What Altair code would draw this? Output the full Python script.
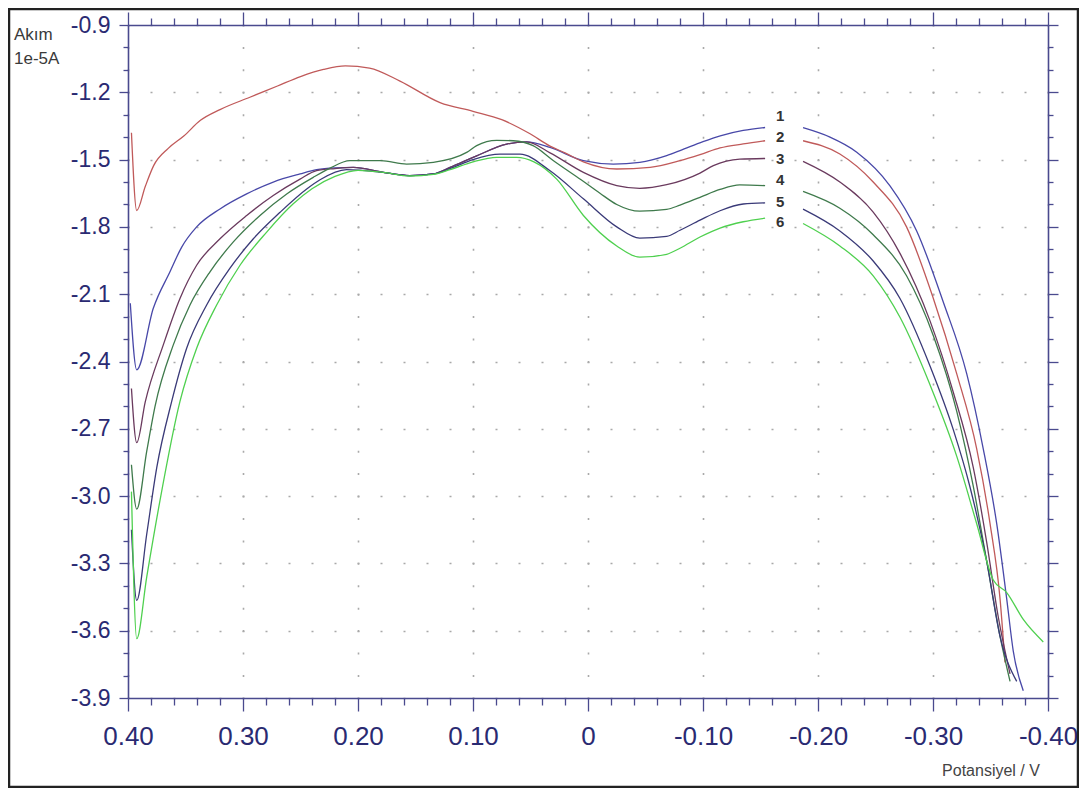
import altair as alt
import pandas as pd

# ---------------- data (potential V, current 1e-5 A) ----------------
curve_names = ["1", "2", "3", "4", "5", "6"]
curve_colors = ["#4848a8", "#c05a5a", "#6a3a5e", "#3f7a4c", "#3a3a78", "#4fd04f"]

c1_left_v = [0.398, 0.3924, 0.378, 0.3635, 0.3533, 0.3403, 0.32, 0.2968, 0.2737, 0.2504, 0.236, 0.22, 0.204, 0.178, 0.155, 0.1345, 0.12, 0.0968, 0.0707, 0.0533, 0.033, 0.004, -0.022, -0.045, -0.0684, -0.08, -0.10, -0.115, -0.135, -0.154]
c1_left_i = [-2.14, -2.437, -2.163, -2.0, -1.89, -1.80, -1.72, -1.653, -1.60, -1.564, -1.545, -1.537, -1.535, -1.557, -1.571, -1.564, -1.535, -1.483, -1.431, -1.421, -1.446, -1.505, -1.52, -1.512, -1.482, -1.46, -1.42, -1.394, -1.37, -1.357]
c1_right_v = [-0.187, -0.2104, -0.2337, -0.2626, -0.2858, -0.309, -0.3293, -0.3437, -0.3554, -0.3641, -0.3698, -0.3785]
c1_right_i = [-1.358, -1.40, -1.467, -1.617, -1.818, -2.136, -2.454, -2.789, -3.123, -3.458, -3.691, -3.868]

c2_left_v = [0.397, 0.3924, 0.385, 0.3777, 0.365, 0.3515, 0.337, 0.32, 0.294, 0.27, 0.25, 0.23, 0.211, 0.19, 0.1635, 0.1287, 0.10, 0.075, 0.0504, 0.033, 0.02, 0.004, -0.025, -0.054, -0.08, -0.0974, -0.1148, -0.135, -0.154]
c2_left_i = [-1.38, -1.727, -1.62, -1.527, -1.45, -1.395, -1.325, -1.277, -1.222, -1.172, -1.13, -1.098, -1.082, -1.092, -1.15, -1.246, -1.285, -1.322, -1.385, -1.44, -1.47, -1.51, -1.542, -1.535, -1.505, -1.478, -1.448, -1.43, -1.416]
c2_right_v = [-0.187, -0.219, -0.248, -0.277, -0.3003, -0.3206, -0.338, -0.3496, -0.3583, -0.3626]
c2_right_i = [-1.416, -1.475, -1.60, -1.80, -2.119, -2.454, -2.789, -3.123, -3.458, -3.742]

c3_left_v = [0.397, 0.3924, 0.385, 0.3693, 0.3548, 0.3403, 0.32, 0.2968, 0.2737, 0.2504, 0.236, 0.22, 0.204, 0.178, 0.155, 0.1345, 0.12, 0.0968, 0.0707, 0.0533, 0.033, 0.004, -0.025, -0.045, -0.0684, -0.0974, -0.109, -0.132, -0.154]
c3_left_i = [-2.52, -2.762, -2.58, -2.326, -2.119, -1.971, -1.853, -1.749, -1.66, -1.587, -1.549, -1.54, -1.535, -1.557, -1.571, -1.564, -1.535, -1.483, -1.431, -1.421, -1.47, -1.557, -1.616, -1.628, -1.612, -1.56, -1.527, -1.498, -1.495]
c3_right_v = [-0.187, -0.219, -0.248, -0.2713, -0.2974, -0.3177, -0.335, -0.3467, -0.3568, -0.367]
c3_right_i = [-1.508, -1.60, -1.734, -1.918, -2.219, -2.538, -2.872, -3.206, -3.54, -3.792]

c4_left_v = [0.397, 0.3924, 0.3837, 0.3765, 0.3606, 0.3461, 0.3287, 0.3084, 0.2852, 0.262, 0.2389, 0.225, 0.207, 0.18, 0.1577, 0.1345, 0.1055, 0.0968, 0.0794, 0.065, 0.0478, 0.03, 0.006, -0.0104, -0.025, -0.045, -0.0684, -0.08, -0.0974, -0.1148, -0.132, -0.154]
c4_left_i = [-2.86, -3.058, -2.80, -2.60, -2.326, -2.148, -2.0, -1.867, -1.749, -1.653, -1.579, -1.54, -1.505, -1.505, -1.52, -1.512, -1.468, -1.438, -1.414, -1.416, -1.438, -1.505, -1.59, -1.65, -1.70, -1.73, -1.722, -1.703, -1.668, -1.633, -1.613, -1.616]
c4_right_v = [-0.187, -0.219, -0.248, -0.277, -0.3003, -0.3206, -0.335, -0.3467, -0.3583, -0.367]
c4_right_i = [-1.642, -1.717, -1.835, -2.018, -2.285, -2.621, -2.956, -3.29, -3.625, -3.826]

c5_left_v = [0.397, 0.3924, 0.3837, 0.375, 0.362, 0.349, 0.3316, 0.3113, 0.291, 0.2678, 0.2446, 0.233, 0.21, 0.178, 0.155, 0.1345, 0.12, 0.10, 0.0765, 0.0591, 0.033, 0.004, -0.025, -0.045, -0.0684, -0.08, -0.0974, -0.1148, -0.135, -0.154]
c5_left_i = [-3.15, -3.465, -3.169, -2.873, -2.578, -2.341, -2.148, -1.984, -1.853, -1.735, -1.631, -1.59, -1.545, -1.557, -1.571, -1.564, -1.54, -1.50, -1.476, -1.476, -1.55, -1.675, -1.80, -1.85, -1.842, -1.815, -1.77, -1.728, -1.698, -1.693]
c5_right_v = [-0.187, -0.219, -0.248, -0.2713, -0.2974, -0.3177, -0.332, -0.3467, -0.3583, -0.3728]
c5_right_i = [-1.721, -1.818, -1.952, -2.119, -2.42, -2.705, -2.956, -3.29, -3.625, -3.826]

c6_left_v = [0.397, 0.3924, 0.3837, 0.3722, 0.3548, 0.3403, 0.3229, 0.3026, 0.2794, 0.2563, 0.24, 0.22, 0.20, 0.178, 0.155, 0.1345, 0.12, 0.10, 0.0794, 0.062, 0.047, 0.0272, 0.004, -0.025, -0.045, -0.0684, -0.08, -0.0974, -0.1148, -0.135, -0.154]
c6_left_i = [-2.98, -3.635, -3.36, -3.02, -2.578, -2.341, -2.148, -1.971, -1.823, -1.697, -1.63, -1.575, -1.548, -1.557, -1.573, -1.566, -1.545, -1.51, -1.49, -1.49, -1.51, -1.587, -1.749, -1.885, -1.935, -1.922, -1.895, -1.845, -1.805, -1.777, -1.761]
c6_right_v = [-0.187, -0.219, -0.248, -0.2713, -0.2974, -0.3206, -0.338, -0.3524, -0.3641, -0.3785, -0.3959]
c6_right_i = [-1.785, -1.885, -2.018, -2.203, -2.504, -2.822, -3.123, -3.374, -3.43, -3.55, -3.65]

label_v = [-0.167, -0.167, -0.167, -0.167, -0.167, -0.167]
label_i = [-1.304, -1.401, -1.499, -1.592, -1.690, -1.779]

x_tick_values = [round(-0.40 + 0.02 * k, 2) for k in range(41)]
y_tick_values = [round(-3.9 + 0.1 * k, 1) for k in range(31)]

# ---------------- build table ----------------
segments = [
    ("1", [(c1_left_v, c1_left_i), (c1_right_v, c1_right_i)]),
    ("2", [(c2_left_v, c2_left_i), (c2_right_v, c2_right_i)]),
    ("3", [(c3_left_v, c3_left_i), (c3_right_v, c3_right_i)]),
    ("4", [(c4_left_v, c4_left_i), (c4_right_v, c4_right_i)]),
    ("5", [(c5_left_v, c5_left_i), (c5_right_v, c5_right_i)]),
    ("6", [(c6_left_v, c6_left_i), (c6_right_v, c6_right_i)]),
]
rows = []
idx = 0
for name, segs in segments:
    for s, (vs, cs) in enumerate(segs):
        for v, c in zip(vs, cs):
            rows.append({"curve": name, "seg": f"{name}-{s}", "V": v, "I": c, "idx": idx})
            idx += 1
df = pd.DataFrame(rows)
labels_df = pd.DataFrame({"name": curve_names, "V": label_v, "I": label_i})

# ---------------- styling ----------------
AX = "#4a4a8e"
NAVY = "#2a2a72"
GRID = "#a9a9a9"
FONT = "Liberation Sans"
MAJ_X = "abs(datum.value*10 - round(datum.value*10)) < 0.001"
MAJ_Y = "abs(datum.value/0.3 - round(datum.value/0.3)) < 0.001"

W, H = 920, 673

x_scale = alt.Scale(domain=[-0.40, 0.40], reverse=True, nice=False, zero=False)
y_scale = alt.Scale(domain=[-3.9, -0.9], nice=False, zero=False)

x_bottom = alt.Axis(
    orient="bottom", values=x_tick_values, title=None,
    labelExpr=f"{MAJ_X} ? (abs(datum.value) < 0.001 ? '0' : (datum.value < 0 ? '-' : '') + format(abs(datum.value), '.2f')) : ''",
    tickSize={"condition": {"test": MAJ_X, "value": 13}, "value": 7},
    grid=True,
    gridOpacity={"condition": {"test": MAJ_X, "value": 1}, "value": 0},
    gridDash=[2, 20.43], gridDashOffset=1, gridColor=GRID, gridWidth=1.6,
    labelOverlap=False, labelFlush=False, labelBound=False,
    labelPadding=12, labelFontSize=26, labelFont=FONT, labelColor=NAVY,
    domainColor=AX, tickColor=AX, domainWidth=1.6, tickWidth=1.3,
)
y_left = alt.Axis(
    orient="left", values=y_tick_values, title=None,
    labelExpr=f"{MAJ_Y} ? (datum.value < 0 ? '-' : '') + format(abs(datum.value), '.1f') : ''",
    tickSize={"condition": {"test": MAJ_Y, "value": 9}, "value": 5},
    grid=True,
    gridOpacity={"condition": {"test": MAJ_Y, "value": 1}, "value": 0},
    gridDash=[2, 21], gridDashOffset=1, gridColor=GRID, gridWidth=1.6,
    labelOverlap=False, labelFlush=False, labelBound=False,
    labelPadding=9, labelFontSize=23, labelFont=FONT, labelColor=NAVY,
    domainColor=AX, tickColor=AX, domainWidth=1.6, tickWidth=1.3,
)
x_top = alt.Axis(
    orient="top", values=x_tick_values, title=None, labels=False, grid=False,
    tickSize={"condition": {"test": MAJ_X, "value": 13}, "value": 7},
    domainColor=AX, tickColor=AX, domainWidth=1.6, tickWidth=1.3,
)
y_right = alt.Axis(
    orient="right", values=y_tick_values, title=None, labels=False, grid=False,
    tickSize={"condition": {"test": MAJ_Y, "value": 10}, "value": 5},
    domainColor=AX, tickColor=AX, domainWidth=1.6, tickWidth=1.3,
)

color_scale = alt.Scale(domain=curve_names, range=curve_colors)

lines = alt.Chart(df).mark_line(strokeWidth=1.3, clip=True, interpolate="monotone").encode(
    x=alt.X("V:Q", scale=x_scale, axis=x_bottom),
    y=alt.Y("I:Q", scale=y_scale, axis=y_left),
    color=alt.Color("curve:N", scale=color_scale, legend=None),
    detail="seg:N",
    order="idx:Q",
)

frame_axes = alt.Chart(df).mark_line(opacity=0).encode(
    x=alt.X("V:Q", scale=x_scale, axis=x_top),
    y=alt.Y("I:Q", scale=y_scale, axis=y_right),
    detail="seg:N",
)

curve_labels = alt.Chart(labels_df).mark_text(
    font=FONT, fontSize=15, fontWeight="bold", color="#333333", align="center", baseline="middle"
).encode(
    x=alt.X("V:Q", scale=x_scale, axis=None),
    y=alt.Y("I:Q", scale=y_scale, axis=None),
    text="name:N",
)

one = pd.DataFrame({"k": [0]})
outer_frame = alt.Chart(one).mark_rect(fill="transparent", stroke="#222222", strokeWidth=2.5).encode(
    x=alt.value(-119), x2=alt.value(W + 30), y=alt.value(-16), y2=alt.value(H + 89)
)
ylab1 = alt.Chart(one).mark_text(font=FONT, fontSize=17, color="#3a3a3a", align="left", baseline="middle").encode(
    x=alt.value(-114), y=alt.value(10), text=alt.value("Akım")
)
ylab2 = alt.Chart(one).mark_text(font=FONT, fontSize=17, color="#3a3a3a", align="left", baseline="middle").encode(
    x=alt.value(-114), y=alt.value(34), text=alt.value("1e-5A")
)
xlab = alt.Chart(one).mark_text(font=FONT, fontSize=16, color="#444444", align="center", baseline="middle").encode(
    x=alt.value(863), y=alt.value(746), text=alt.value("Potansiyel / V")
)

chart = alt.layer(
    lines, frame_axes, curve_labels, outer_frame, ylab1, ylab2, xlab
).resolve_axis(x="independent", y="independent").properties(
    width=W, height=H,
    autosize=alt.AutoSizeParams(type="none"),
    padding={"left": 120, "top": 17, "right": 31, "bottom": 90},
).configure_view(stroke=None).configure(background="white")

chart.save("out.html", embed_options={"renderer": "svg", "actions": False})
